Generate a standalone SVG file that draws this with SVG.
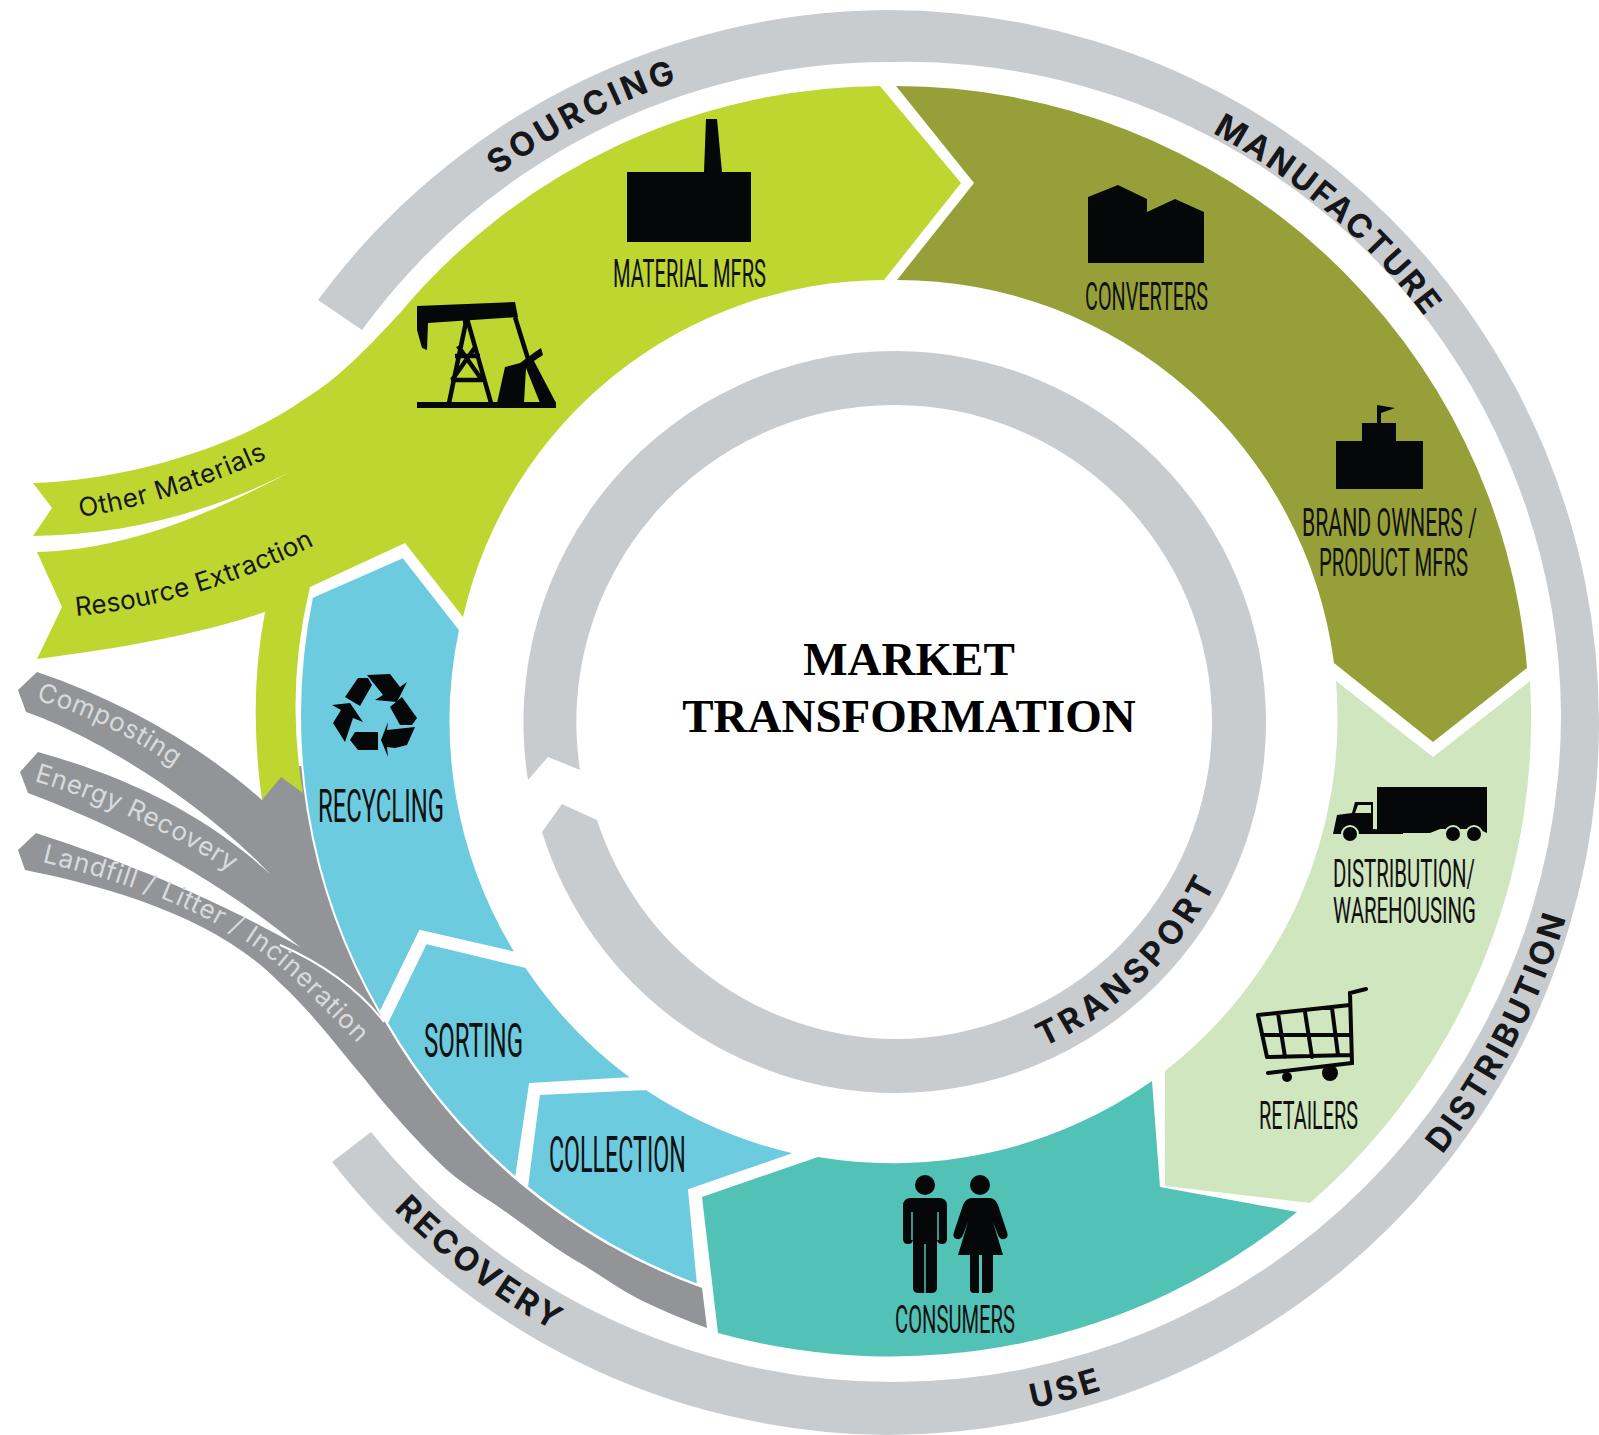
<svg xmlns="http://www.w3.org/2000/svg" width="1599" height="1435" viewBox="0 0 1599 1435">
<defs>
<path id="pSourcing" d="M314,380 A671,671 0 0 1 953,48"/>
<path id="pManufacture" d="M951,54 A665,665 0 0 1 1541,566"/>
<path id="pDistribution" d="M1244,1325 A703,703 0 0 0 1593,655"/>
<path id="pUse" d="M703,1396 A706,706 0 0 0 1387,1220"/>
<path id="pRecovery" d="M247,990 A701,701 0 0 0 807,1413"/>
<path id="pTransport" d="M982,1068 A358,358 0 0 0 1241,820"/>
<path id="pOther" d="M80,517 Q170,505 285,450"/>
<path id="pResource" d="M76,616 Q200,605 325,540"/>
<path id="pCompost" d="M36,700 Q125,725 205,790"/>
<path id="pEnergy" d="M34,781 Q150,815 258,890"/>
<path id="pLandfill" d="M42,862 C140,885 235,920 300,985 S360,1045 395,1085"/>
</defs>
<style>
.ring{fill:#c9ccCF}
.lime{fill:#bed630}
.olive{fill:#97a038}
.pale{fill:#cfe6bf}
.teal{fill:#52c2b6}
.blue{fill:#6ccbdf;stroke:#fff;stroke-width:2}
.gray{fill:#929497}
.ic{fill:#050709}
.cap{font-family:"Roboto","Liberation Sans",sans-serif;font-weight:400;fill:#111;text-anchor:start}
.ringt{font-family:"Inter","Liberation Sans",sans-serif;font-weight:700;font-size:33px;fill:#15171a;text-anchor:middle}
.sm{font-family:"Inter","Liberation Sans",sans-serif;font-size:26px;letter-spacing:.6px}
.title{font-family:"Liberation Serif",serif;font-weight:700;font-size:47px;fill:#000;text-anchor:middle}
</style>
<g id="connectors">
<path id="outer-ring" class="ring" d="M318,300 A712,712 0 0 1 887,10 A712,712 0 0 1 1599,722 A712,712 0 0 1 887,1435 A712,712 0 0 1 332,1162 L371,1132 A672,672 0 0 0 893,1382 A668,668 0 0 0 1561,714 A665,665 0 0 0 1428,321 A655,655 0 0 0 893,62 A652,652 0 0 0 362,330 Z"/>
<path id="inner-ring" class="ring" d="M528,780 A371,371 0 0 1 895,351 A371,371 0 0 1 1266,722 A371,371 0 0 1 895,1093 A371,371 0 0 1 542,832 L562,804 L597,820 A317,317 0 0 0 895,1039 A317,317 0 0 0 1212,722 A317,317 0 0 0 895,405 A317,317 0 0 0 580,770 L548,757 Z"/>
<text class="ringt" letter-spacing="3.8"><textPath href="#pSourcing" startOffset="50%">SOURCING</textPath></text>
<text class="ringt" letter-spacing="2.6"><textPath href="#pManufacture" startOffset="50%">MANUFACTURE</textPath></text>
<text class="ringt" letter-spacing="3"><textPath href="#pDistribution" startOffset="50%">DISTRIBUTION</textPath></text>
<text class="ringt" letter-spacing="3"><textPath href="#pUse" startOffset="50%">USE</textPath></text>
<text class="ringt" letter-spacing="3"><textPath href="#pRecovery" startOffset="50%">RECOVERY</textPath></text>
<text class="ringt" letter-spacing="4.5"><textPath href="#pTransport" startOffset="50%">TRANSPORT</textPath></text>
</g>
<g id="end-of-life">
<path class="gray" d="M37,672 L18,690 L26,712 C80,730 190,790 269,873 L380,1017 L330,760 L281,770 L262,800 C200,745 120,700 37,672 Z"/>
<path class="gray" d="M38,752 L20,772 L28,793 C100,820 200,865 300,947 L380,1017 L400,900 L269,873 C200,810 120,775 38,752 Z"/>
<path class="gray" d="M36,833 L18,850 L25,870 C100,885 215,915 280,983 C310,1010 340,1050 363,1077 C385,1105 415,1140 447,1170 C470,1190 490,1200 513,1217 C535,1233 557,1250 580,1263 C600,1275 625,1293 647,1303 C668,1313 690,1322 707,1328 L702,1288 A598,598 0 0 1 385,1022 L380,1017 C350,975 340,970 300,947 C200,890 103,855 36,833 Z"/>
<path d="M280,945 C320,962 360,990 384,1022" fill="none" stroke="#fff" stroke-width="2"/>
<text class="sm" fill="#d8dadc" letter-spacing="1"><textPath href="#pCompost">Composting</textPath></text>
<text class="sm" fill="#d8dadc" letter-spacing="1"><textPath href="#pEnergy">Energy Recovery</textPath></text>
<text class="sm" fill="#d8dadc" style="letter-spacing:.9px"><textPath href="#pLandfill">Landfill / Litter / Incineration</textPath></text>
</g>
<g id="sourcing">
<path class="lime" d="M880,86 L961,183 L884,280 A433,433 0 0 0 463,617 L405,543 L310,587 Q285,690 303,793 L281,777 L262,800 Q248,700 265,612 C180,640 100,650 37,659 L62,607 L37,552 C130,550 220,510 303,465 C220,510 130,535 33,536 L52,508 L33,483 C130,480 240,445 303,400 C340,378 370,345 400,313 A632,632 0 0 1 880,86 Z"/>
<text class="sm" fill="#15171a"><textPath href="#pOther">Other Materials</textPath></text>
<text class="sm" fill="#15171a" style="letter-spacing:.2px"><textPath href="#pResource">Resource Extraction</textPath></text>
<g id="oil-pump">
<path class="ic" d="M417,306 L515,302 L518,317 L428,323 L427,350 L422,348 L417,330 Z"/>
<rect class="ic" x="417" y="402" width="139" height="6"/>
<path d="M463,322 H470 M466,322 L449,403 M468,322 L491,403 M455,356 L480,356 M451,380 L486,380 M458,346 L482,380 M476,346 L452,380 M515,317 L529,362" fill="none" stroke="#050709" stroke-width="4.5"/>
<path class="ic" d="M497,403 L505,367 L520,363 L535,352 L541,348 L543,355 L534,361 L556,403 L540,403 L526,368 L524,403 Z"/>
</g>
<g id="material-mfrs">
<path class="ic" d="M627,172 H704 L706,119 H717 L722,172 H751 V242 H627 Z"/>
<text class="cap" transform="translate(613,287) scale(.5,1)" font-size="39.5" textLength="306" lengthAdjust="spacingAndGlyphs">MATERIAL MFRS</text>
</g>
</g>
<g id="manufacture">
<path class="olive" d="M896,86 L974,183 L897,280 A440,440 0 0 1 1334,663 L1433,742 L1527,668 A634,634 0 0 0 896,86 Z"/>
<g id="converters">
<path class="ic" d="M1088,197 L1118,185 L1147,199 V212 L1175,199 L1204,212 V263 H1088 Z"/>
<text class="cap" transform="translate(1085,310) scale(.5,1)" font-size="39.5" textLength="246" lengthAdjust="spacingAndGlyphs">CONVERTERS</text>
</g>
<g id="brand-owners">
<path class="ic" d="M1336,441 H1362 V423 H1377 V405 L1395,408 L1381,413 V423 H1396 V441 H1423 V489 H1336 Z"/>
<text class="cap" transform="translate(1302,536) scale(.5,1)" font-size="39.5" textLength="350" lengthAdjust="spacingAndGlyphs">BRAND OWNERS /</text>
<text class="cap" transform="translate(1319,576) scale(.5,1)" font-size="39.5" textLength="298" lengthAdjust="spacingAndGlyphs">PRODUCT MFRS</text>
</g>
</g>
<g id="distribution">
<path class="pale" d="M1336,681 L1433,757 L1530,681 A642,642 0 0 1 1310,1203 L1165,1186 L1165,1071 A447,447 0 0 0 1336,681 Z"/>
<g id="truck">
<path class="ic" d="M1377,787 H1487 V833 L1478,829 H1440 L1430,833 H1377 Z"/>
<path class="ic" d="M1333,834 L1337,815 L1352,813 L1355,802 H1373 V829 L1403,831 V834 Z"/>
<path class="pale" d="M1358,805 H1371 V813 H1355 Z"/>
<circle class="ic" cx="1350" cy="834" r="8" stroke="#cfe6bf" stroke-width="2"/>
<circle class="ic" cx="1453" cy="834" r="8" stroke="#cfe6bf" stroke-width="2"/>
<circle class="ic" cx="1474" cy="834" r="8" stroke="#cfe6bf" stroke-width="2"/>
<text class="cap" transform="translate(1333,887) scale(.5,1)" font-size="39.5" textLength="284" lengthAdjust="spacingAndGlyphs">DISTRIBUTION/</text>
<text class="cap" transform="translate(1333,923) scale(.5,1)" font-size="37.5" textLength="286" lengthAdjust="spacingAndGlyphs">WAREHOUSING</text>
</g>
<g id="retailers">
<path d="M1258,1015 L1350,1005 M1262,1035 L1350,1035 M1267,1057 L1350,1055 M1258,1015 L1267,1057 M1278,1013 L1285,1057 M1305,1012 L1312,1057 M1332,1008 L1338,1055 M1366,989 L1350,993 L1352,1063 L1268,1073" fill="none" stroke="#050709" stroke-width="4" stroke-linecap="round"/>
<circle class="ic" cx="1287" cy="1077" r="5"/>
<circle class="ic" cx="1330" cy="1073" r="8"/>
<text class="cap" transform="translate(1259,1129) scale(.5,1)" font-size="38" textLength="198" lengthAdjust="spacingAndGlyphs">RETAILERS</text>
</g>
</g>
<g id="consumers">
<path class="teal" d="M702,1197 L818,1157 A450,450 0 0 0 1152,1081 L1160,1187 L1297,1212 A644,644 0 0 1 718,1333 Z"/>
<circle class="ic" cx="925" cy="1185" r="10"/>
<path class="ic" d="M911,1198 H939 Q947,1198 947,1206 V1239 Q947,1244 942,1244 Q937,1244 937,1239 V1288 Q937,1293 931,1293 H919 Q913,1293 913,1288 V1239 Q913,1244 908,1244 Q903,1244 903,1239 V1206 Q903,1198 911,1198 Z"/>
<path d="M912,1212 V1240 M938,1212 V1240 M925,1244 V1293" fill="none" stroke="#52c2b6" stroke-width="1.5"/>
<circle class="ic" cx="980" cy="1185" r="10"/>
<path class="ic" d="M972,1198 H990 Q995,1198 998,1205 L1007,1232 Q1009,1238 1004,1239 Q1000,1240 998,1235 L993,1222 L1003,1255 H993 V1289 Q993,1293 988,1293 H982 V1255 H979 V1293 H974 Q970,1293 970,1289 V1255 H958 L968,1222 L963,1235 Q961,1240 957,1239 Q952,1238 954,1232 L963,1205 Q966,1198 972,1198 Z"/>
<text class="cap" transform="translate(895,1333) scale(.5,1)" font-size="39.5" textLength="240" lengthAdjust="spacingAndGlyphs">CONSUMERS</text>
</g>
<g id="recovery">
<g id="recycling">
<path class="blue" d="M312,597 L403,557 L460,630 A443,443 0 0 0 516,953 L420,931 L380,1013 A594,594 0 0 1 312,597 Z"/>
<g id="recycle-icon" class="ic">
<path d="M345,697 L358,678 H368 L372,685 L360,706 Z"/>
<path d="M367,675 L390,674 L400,687 L407,682 L397,702 L375,700 L383,695 Z"/>
<path d="M402,697 L417,718 L412,725 H400 L390,707 Z"/>
<path d="M415,727 L407,745 L395,748 L387,747 L388,757 L381,740 L388,722 L387,730 Z"/>
<path d="M378,732 V750 H358 L350,740 L355,732 Z"/>
<path d="M332,705 L350,703 L363,722 L353,718 L345,742 L333,723 L341,710 Z"/>
</g>
<text class="cap" transform="translate(318,822) scale(.45,1)" font-size="47" textLength="280" lengthAdjust="spacingAndGlyphs">RECYCLING</text>
</g>
<g id="sorting">
<path class="blue" d="M426,943 L526,967 A447,447 0 0 0 632,1078 L530,1084 L516,1178 A596,596 0 0 1 387,1023 Z"/>
<text class="cap" transform="translate(424,1057) scale(.45,1)" font-size="48" textLength="220" lengthAdjust="spacingAndGlyphs">SORTING</text>
</g>
<g id="collection">
<path class="blue" d="M539,1094 L646,1089 A450,450 0 0 0 796,1153 L689,1190 L698,1285 A600,600 0 0 1 527,1187 Z"/>
<text class="cap" transform="translate(549,1172) scale(.45,1)" font-size="50" textLength="304" lengthAdjust="spacingAndGlyphs">COLLECTION</text>
</g>
</g>
<g id="market-transformation">
<text class="title" x="909" y="675">MARKET</text>
<text class="title" x="909" y="732">TRANSFORMATION</text>
</g>
</svg>
